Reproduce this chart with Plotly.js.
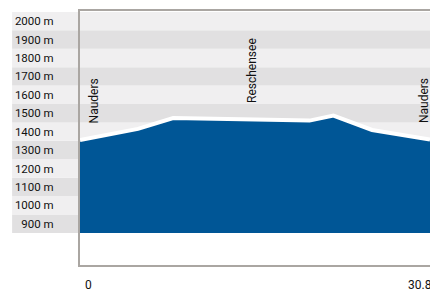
<!DOCTYPE html>
<html>
<head>
<meta charset="utf-8">
<script src="https://cdn.plot.ly/plotly-3.0.1.min.js"></script>
<style>
  html, body { margin: 0; padding: 0; background: #ffffff; }
  #chart { width: 430px; height: 290px; }
</style>
</head>
<body>
<div id="chart"></div>
<script>
// ---- data ----
const km        = [0, 5.1, 8.2, 20.2, 22.3, 25.7, 30.8];
const elevation = [1405, 1465, 1524, 1510, 1537, 1459, 1407];
const baseKm    = [0, 30.8];
const baseElev  = [900, 900];
const places     = ['Nauders', 'Reschensee', 'Nauders'];
const placeKm    = [0, 15.2, 30.8];
const placeElev  = [1405, 1520, 1407];
const bandLevels = [900, 1000, 1100, 1200, 1300, 1400, 1500, 1600, 1700, 1800, 1900, 2000];
const bandLabels = ['900 m', '1000 m', '1100 m', '1200 m', '1300 m', '1400 m', '1500 m', '1600 m', '1700 m', '1800 m', '1900 m', '2000 m'];
const xTickVals = [0, 30.8];
const xTickText = ['0', '30.8'];

const FONT = "Roboto, 'Liberation Sans Narrow', sans-serif";
const BAND_STEP = 100;

const shapes = bandLevels.map((lv, i) => ({
  type: 'rect', xref: 'paper', yref: 'y', layer: 'below',
  x0: -0.194, x1: 1, y0: lv, y1: lv + BAND_STEP,
  fillcolor: (lv / 100) % 2 === 1 ? '#e1e0e1' : '#f0eff0',
  line: { width: 0 }
}));

const placeShift = [14, 0, -6];
const annotations = places.map((p, i) => ({
  text: p, x: placeKm[i], y: placeElev[i], xref: 'x', yref: 'y',
  textangle: -90, showarrow: false, xanchor: 'center', yanchor: 'bottom',
  xshift: placeShift[i], yshift: 14,
  font: { family: FONT, size: 12, color: '#111111' }
}));
const xShift = [8, -10];
xTickVals.forEach((v, i) => annotations.push({
  text: xTickText[i], x: v, y: 0, xref: 'x', yref: 'paper',
  showarrow: false, xanchor: 'center', yanchor: 'middle', xshift: xShift[i], yshift: -20,
  font: { family: FONT, size: 12, color: '#111111' }
}));

const traces = [
  { x: baseKm, y: baseElev, mode: 'lines', line: { width: 0, color: 'rgba(0,0,0,0)' }, hoverinfo: 'skip', showlegend: false },
  { x: km, y: elevation, mode: 'lines', fill: 'tonexty', fillcolor: '#005696',
    line: { color: '#ffffff', width: 4 }, showlegend: false }
];

const layout = {
  width: 430, height: 290,
  margin: { l: 80, r: 0, t: 11, b: 25, pad: 0 },
  paper_bgcolor: '#ffffff', plot_bgcolor: '#ffffff',
  showlegend: false,
  xaxis: {
    range: [0, 30.8], showgrid: false, zeroline: false, showticklabels: false, ticks: '',
    showline: true, mirror: true, linecolor: '#aaa6a2', linewidth: 2
  },
  yaxis: {
    range: [726, 2105], showgrid: false, zeroline: false,
    tickvals: bandLevels.map(v => v + BAND_STEP / 2), ticktext: bandLabels,
    ticks: 'outside', ticklen: 22, tickcolor: 'rgba(0,0,0,0)',
    tickfont: { family: FONT, size: 11.5, color: '#111111' },
    showline: true, linecolor: '#aaa6a2', linewidth: 2
  },
  shapes: shapes,
  annotations: annotations
};

Plotly.newPlot('chart', traces, layout, { staticPlot: true, displayModeBar: false });
</script>
</body>
</html>
